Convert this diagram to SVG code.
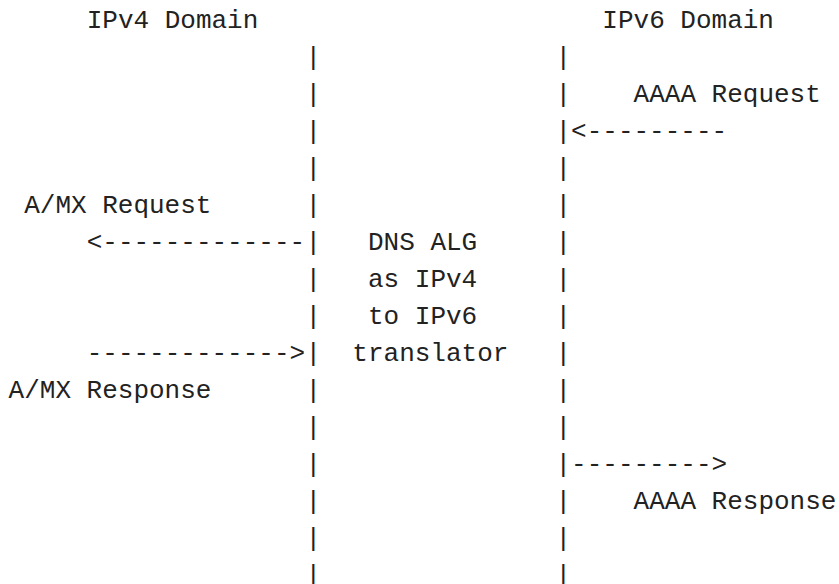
<svg xmlns="http://www.w3.org/2000/svg" width="839" height="584" viewBox="0 0 839 584">
  <style>
    text { font-family: "Liberation Mono", "DejaVu Sans Mono", monospace; font-size: 26px; fill: #222; white-space: pre; }
  </style>
  <rect width="839" height="584" fill="#fff"/>

  <!-- domain headings -->
  <g id="ipv4-domain"><text x="86.7" y="28">IPv4 Domain</text></g>
  <g id="ipv6-domain"><text x="602.35" y="28">IPv6 Domain</text></g>

  <!-- translator in the middle -->
  <g id="dns-alg">
    <text x="368" y="250">DNS ALG</text>
    <text x="368" y="287">as IPv4</text>
    <text x="368" y="324">to IPv6</text>
    <text x="352.35" y="361">translator</text>
  </g>

  <!-- message labels -->
  <g id="aaaa-request"><text x="633.6" y="102">AAAA Request</text></g>
  <g id="amx-request"><text x="24.2" y="213">A/MX Request</text></g>
  <g id="amx-response"><text x="8.6" y="398">A/MX Response</text></g>
  <g id="aaaa-response"><text x="633.6" y="509">AAAA Response</text></g>

  <!-- boundary bars and message arrows -->
  <g id="connectors">
    <text x="305.5" y="65">|<tspan x="305.5" dy="37">|</tspan><tspan x="305.5" dy="37">|</tspan><tspan x="305.5" dy="37">|</tspan><tspan x="305.5" dy="37">|</tspan><tspan x="305.5" dy="37">|</tspan><tspan x="305.5" dy="37">|</tspan><tspan x="305.5" dy="37">|</tspan><tspan x="305.5" dy="37">|</tspan><tspan x="305.5" dy="37">|</tspan><tspan x="305.5" dy="37">|</tspan><tspan x="305.5" dy="37">|</tspan><tspan x="305.5" dy="37">|</tspan><tspan x="305.5" dy="37">|</tspan><tspan x="305.5" dy="37">|</tspan></text>
    <text x="555.5" y="65">|<tspan x="555.5" dy="37">|</tspan><tspan x="555.5" dy="37">|</tspan><tspan x="555.5" dy="37">|</tspan><tspan x="555.5" dy="37">|</tspan><tspan x="555.5" dy="37">|</tspan><tspan x="555.5" dy="37">|</tspan><tspan x="555.5" dy="37">|</tspan><tspan x="555.5" dy="37">|</tspan><tspan x="555.5" dy="37">|</tspan><tspan x="555.5" dy="37">|</tspan><tspan x="555.5" dy="37">|</tspan><tspan x="555.5" dy="37">|</tspan><tspan x="555.5" dy="37">|</tspan><tspan x="555.5" dy="37">|</tspan></text>
    <text x="571.1" y="139">&lt;---------</text>
    <text x="86.7" y="250">&lt;-------------</text>
    <text x="86.7" y="361">-------------&gt;</text>
    <text x="571.1" y="472">---------&gt;</text>
  </g>
</svg>
